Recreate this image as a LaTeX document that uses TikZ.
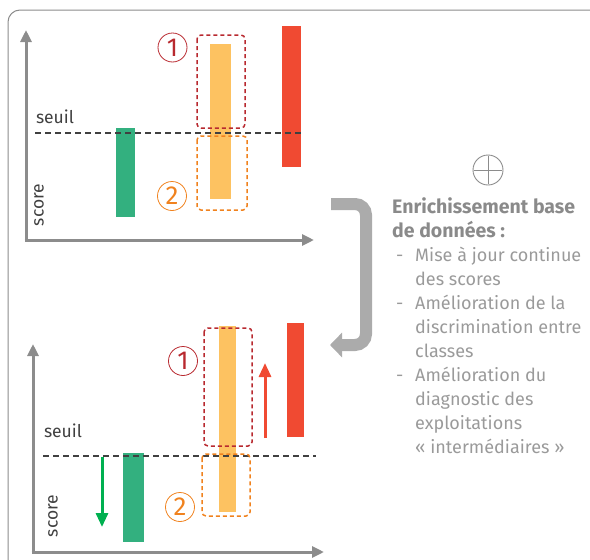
\documentclass[tikz,border=0pt]{standalone}
\usepackage{fontspec}
\setmainfont{Fira Sans}
\usetikzlibrary{arrows.meta}
\definecolor{axisgray}{HTML}{8C8C8C}
\definecolor{txtgray}{HTML}{9A9A9A}
\definecolor{headgray}{HTML}{8A8A8A}
\definecolor{labgray}{HTML}{404040}
\definecolor{barGreen}{HTML}{33B07F}
\definecolor{barYellow}{HTML}{FDC261}
\definecolor{barRed}{HTML}{F04A32}
\definecolor{boxRed}{HTML}{B8292F}
\definecolor{boxOrange}{HTML}{F0821E}
\definecolor{arrGreen}{HTML}{00B050}
\definecolor{loopGray}{HTML}{ABABAB}
\tikzset{
  axis/.style={draw=axisgray, line width=3pt, -{Triangle[length=12pt,width=11pt]}},
  seuilline/.style={draw=labgray, line width=1.2pt, dash pattern=on 6pt off 4pt},
  dbox/.style={line width=1.5pt, dash pattern=on 4pt off 3pt, rounded corners=4pt},
  circnum/.style={circle, draw, line width=0.8pt, minimum size=29pt, inner sep=0pt, font=\fontsize{26}{26}\selectfont},
  axlabel/.style={text=labgray, font=\fontsize{17.5}{17.5}\selectfont, inner sep=0pt},
  bodytxt/.style={text=txtgray, font=\fontsize{18}{24}\selectfont, inner sep=0pt, anchor=base west},
  headtxt/.style={text=headgray, font=\fontsize{19.5}{24}\selectfont\bfseries, inner sep=0pt, anchor=base west},
}
\begin{document}
\begin{tikzpicture}[x=1pt,y=-1pt]
\useasboundingbox (0,0) rectangle (590,560);
\begin{scope}
\clip (0,0) rectangle (590,560);
\draw[axisgray, line width=1pt, rounded corners=12pt] (8,10) rectangle (640,620);
\end{scope}

% ---------- top chart ----------
\coordinate (ty) at (26,30);
\coordinate (tx) at (314,240);
\draw[axis] (26,241.5) -- (ty);
\draw[axis] (24.5,240) -- (tx);
\node[axlabel, rotate=90] (tscore) at (39,205) {score};
\node[axlabel] (tseuil) at (55,117) {seuil};
\coordinate (tsl) at (35,133);
\coordinate (tsr) at (302,133);
\fill[barGreen] (116,128) rectangle (135,217);
\fill[barYellow] (210,44) rectangle (231,199);
\fill[barRed] (282,26) rectangle (301,167);
\draw[seuilline] (tsl) -- (tsr);
\draw[dbox, boxRed] (197,35) rectangle (245,128);
\draw[dbox, boxOrange] (197,136) rectangle (247,210);
\node[circnum, draw=boxRed, text=boxRed] (tc1) at (172.5,47.5) {1};
\node[circnum, draw=boxOrange, text=boxOrange] (tc2) at (172,196) {2};

% ---------- bottom chart ----------
\coordinate (by) at (33,344);
\coordinate (bx) at (324,552);
\draw[axis] (33,553.5) -- (by);
\draw[axis] (31.5,552) -- (bx);
\node[axlabel, rotate=90] (bscore) at (53,516) {score};
\node[axlabel] (bseuil) at (63,431) {seuil};
\coordinate (bsl) at (43,456);
\coordinate (bsr) at (316,456);
\fill[barGreen] (123,453) rectangle (144,542);
\fill[barYellow] (219,326) rectangle (236,512);
\fill[barRed] (287,323) rectangle (304,437);
\draw[seuilline] (bsl) -- (bsr);
\draw[dbox, boxRed] (204,328) rectangle (252,446);
\draw[dbox, boxOrange] (202,454) rectangle (250,516);
\node[circnum, draw=boxRed, text=boxRed] (bc1) at (183,361) {1};
\node[circnum, draw=boxOrange, text=boxOrange] (bc2) at (180,507) {2};
\coordinate (ga) at (102,457);
\coordinate (gb) at (102,527);
\draw[arrGreen, line width=3pt, -{Triangle[length=14pt,width=12pt]}] (ga) -- (gb);
\coordinate (ra) at (265,438);
\coordinate (rb) at (265,363);
\draw[barRed, line width=3pt, -{Triangle[length=14pt,width=12pt]}] (ra) -- (rb);

% ---------- loop arrow ----------
\coordinate (l0) at (331,204);
\coordinate (l1) at (366,204);
\coordinate (l2) at (366,345);
\coordinate (l3) at (330,345);
\draw[loopGray, line width=12pt, rounded corners=11pt, -{Triangle[length=12pt,width=24pt]}] (l0) -- (l1) -- (l2) -- (l3);

% ---------- right text ----------
\node[circle, draw=axisgray, line width=0.9pt, minimum size=30pt, inner sep=0pt] (plus) at (488,170) {};
\draw[axisgray, line width=0.9pt] ([yshift=-1.5pt]plus.north) -- ([yshift=1.5pt]plus.south) ([xshift=1.5pt]plus.west) -- ([xshift=-1.5pt]plus.east);
\node[headtxt] (h1) at (392,213) {Enrichissement base};
\node[headtxt] (h2) at (392,237) {de données :};
\node[bodytxt] (d1) at (396,261) {-};
\node[bodytxt] (i1) at (415,261) {Mise à jour continue};
\node[bodytxt] (i1b) at (415,285) {des scores};
\node[bodytxt] (d2) at (396,309) {-};
\node[bodytxt] (i2) at (415,309) {Amélioration de la};
\node[bodytxt] (i2b) at (415,333) {discrimination entre};
\node[bodytxt] (i2c) at (415,357) {classes};
\node[bodytxt] (d3) at (396,381) {-};
\node[bodytxt] (i3) at (415,381) {Amélioration du};
\node[bodytxt] (i3b) at (415,405) {diagnostic des};
\node[bodytxt] (i3c) at (415,429) {exploitations};
\node[bodytxt] (i3d) at (415,453) {« intermédiaires »};
\end{tikzpicture}
\end{document}
